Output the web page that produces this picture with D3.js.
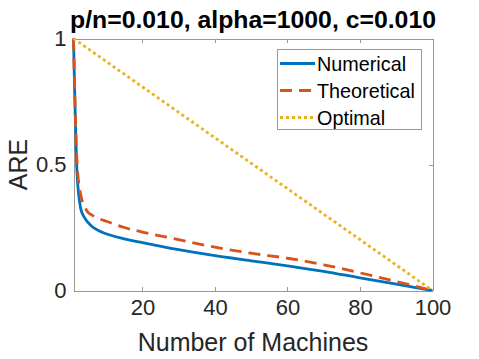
<!DOCTYPE html>
<html>
<head>
<meta charset="utf-8">
<script src="https://cdn.jsdelivr.net/npm/d3@7"></script>
<style>
  body { margin: 0; background: #fff; }
  text { font-family: "Liberation Sans", Arial, sans-serif; fill: #262626; }
</style>
</head>
<body>
<svg id="chart" width="479" height="359"></svg>
<script>
/*
    Values
 */
var machines = [1, 2, 3, 4, 5, 6, 8, 10, 15, 20, 30, 40, 50, 60, 70, 80, 90, 100];
var numerical = [1, 0.46, 0.325, 0.29, 0.27, 0.255, 0.237, 0.225, 0.205, 0.19, 0.162, 0.138, 0.118, 0.098, 0.076, 0.05, 0.025, 0];
var theoretical = [1, 0.5, 0.38, 0.335, 0.31, 0.3, 0.285, 0.275, 0.25, 0.232, 0.202, 0.172, 0.148, 0.128, 0.102, 0.07, 0.036, 0];
var optimalX = [1, 100];
var optimal = [1, 0];

var xTicks = [20, 40, 60, 80, 100];
var yTicks = [0, 0.5, 1];
var yTickLabels = ["0", "0.5", "1"];

var seriesNames = ["Numerical", "Theoretical", "Optimal"];
var colors = ["#0072BD", "#D95319", "#EDB120"];
var dashes = [null, "12,7", "3,3"];

// plot box edges (pixels)
var plotLeft = 73.5, plotRight = 432.5, plotTop = 38.5, plotBottom = 290.5;

var svg = d3.select("#chart");

var x = d3.scaleLinear().domain([1, 100]).range([plotLeft, plotRight]);
var y = d3.scaleLinear().domain([0, 1]).range([plotBottom, plotTop]);

/*
    Axes (MATLAB style box, ticks pointing inward)
 */
var axisColor = "#262626";
var boxColor = "#999999";

var xBottom = svg.append("g")
    .attr("transform", "translate(0," + plotBottom + ")")
    .call(d3.axisBottom(x).tickValues(xTicks).tickSize(-4).tickPadding(9).tickSizeOuter(0));
var xTop = svg.append("g")
    .attr("transform", "translate(0," + plotTop + ")")
    .call(d3.axisTop(x).tickValues(xTicks).tickSize(-4).tickFormat("").tickSizeOuter(0));
var yLeft = svg.append("g")
    .attr("transform", "translate(" + plotLeft + ",0)")
    .call(d3.axisLeft(y).tickValues(yTicks).tickSize(-4).tickPadding(7).tickSizeOuter(0)
        .tickFormat(function(d, i){ return yTickLabels[i]; }));
var yRight = svg.append("g")
    .attr("transform", "translate(" + plotRight + ",0)")
    .call(d3.axisRight(y).tickValues(yTicks).tickSize(-4).tickFormat("").tickSizeOuter(0));

[xBottom, xTop, yLeft, yRight].forEach(function(g){
    g.attr("shape-rendering", "crispEdges");
    g.select(".domain").attr("stroke", boxColor).attr("stroke-width", 1);
    g.selectAll(".tick line").attr("stroke", boxColor).attr("stroke-width", 1);
    g.selectAll(".tick text").style("font-size", "22px").attr("fill", axisColor);
});
xBottom.selectAll(".tick text").attr("dy", "0.71em");

/*
    Lines
 */
var line = d3.line()
    .x(function(d){ return x(d[0]); })
    .y(function(d){ return y(d[1]); })
    .curve(d3.curveMonotoneX);

var seriesData = [
    d3.zip(machines, numerical),
    d3.zip(machines, theoretical),
    d3.zip(optimalX, optimal)
];

svg.append("g").selectAll("path")
    .data(seriesData)
    .enter().append("path")
    .attr("d", line)
    .attr("fill", "none")
    .attr("stroke", function(d, i){ return colors[i]; })
    .attr("stroke-width", 2.8)
    .attr("stroke-dasharray", function(d, i){ return dashes[i]; });

/*
    Labels
 */
svg.append("text")
    .attr("x", (plotLeft + plotRight) / 2)
    .attr("y", 28)
    .attr("text-anchor", "middle")
    .style("font-size", "24.8px")
    .style("font-weight", "bold")
    .style("fill", "#000")
    .text("p/n=0.010, alpha=1000, c=0.010");

svg.append("text")
    .attr("x", (plotLeft + plotRight) / 2)
    .attr("y", 351)
    .attr("text-anchor", "middle")
    .style("font-size", "25px")
    .text("Number of Machines");

svg.append("text")
    .attr("transform", "translate(27," + y(0.5) + ") rotate(-90)")
    .attr("text-anchor", "middle")
    .style("font-size", "25px")
    .text("ARE");

/*
    Legend
 */
var legend = svg.append("g");
legend.append("rect")
    .attr("x", 277.5)
    .attr("y", 49.5)
    .attr("width", 144)
    .attr("height", 80)
    .attr("fill", "#fff")
    .attr("stroke", boxColor)
    .attr("stroke-width", 1)
    .attr("shape-rendering", "crispEdges");

var legendRows = legend.selectAll(".row")
    .data(seriesNames)
    .enter().append("g")
    .attr("class", "row")
    .attr("transform", function(d, i){ return "translate(0," + (63.5 + i * 27) + ")"; });

legendRows.append("line")
    .attr("x1", 280).attr("x2", 315)
    .attr("y1", 0).attr("y2", 0)
    .attr("stroke", function(d, i){ return colors[i]; })
    .attr("stroke-width", 2.8)
    .attr("stroke-dasharray", function(d, i){ return dashes[i]; });

legendRows.append("text")
    .attr("x", 317)
    .attr("y", 7)
    .style("font-size", "19.8px")
    .style("fill", "#000")
    .text(function(d){ return d; });
</script>
</body>
</html>
